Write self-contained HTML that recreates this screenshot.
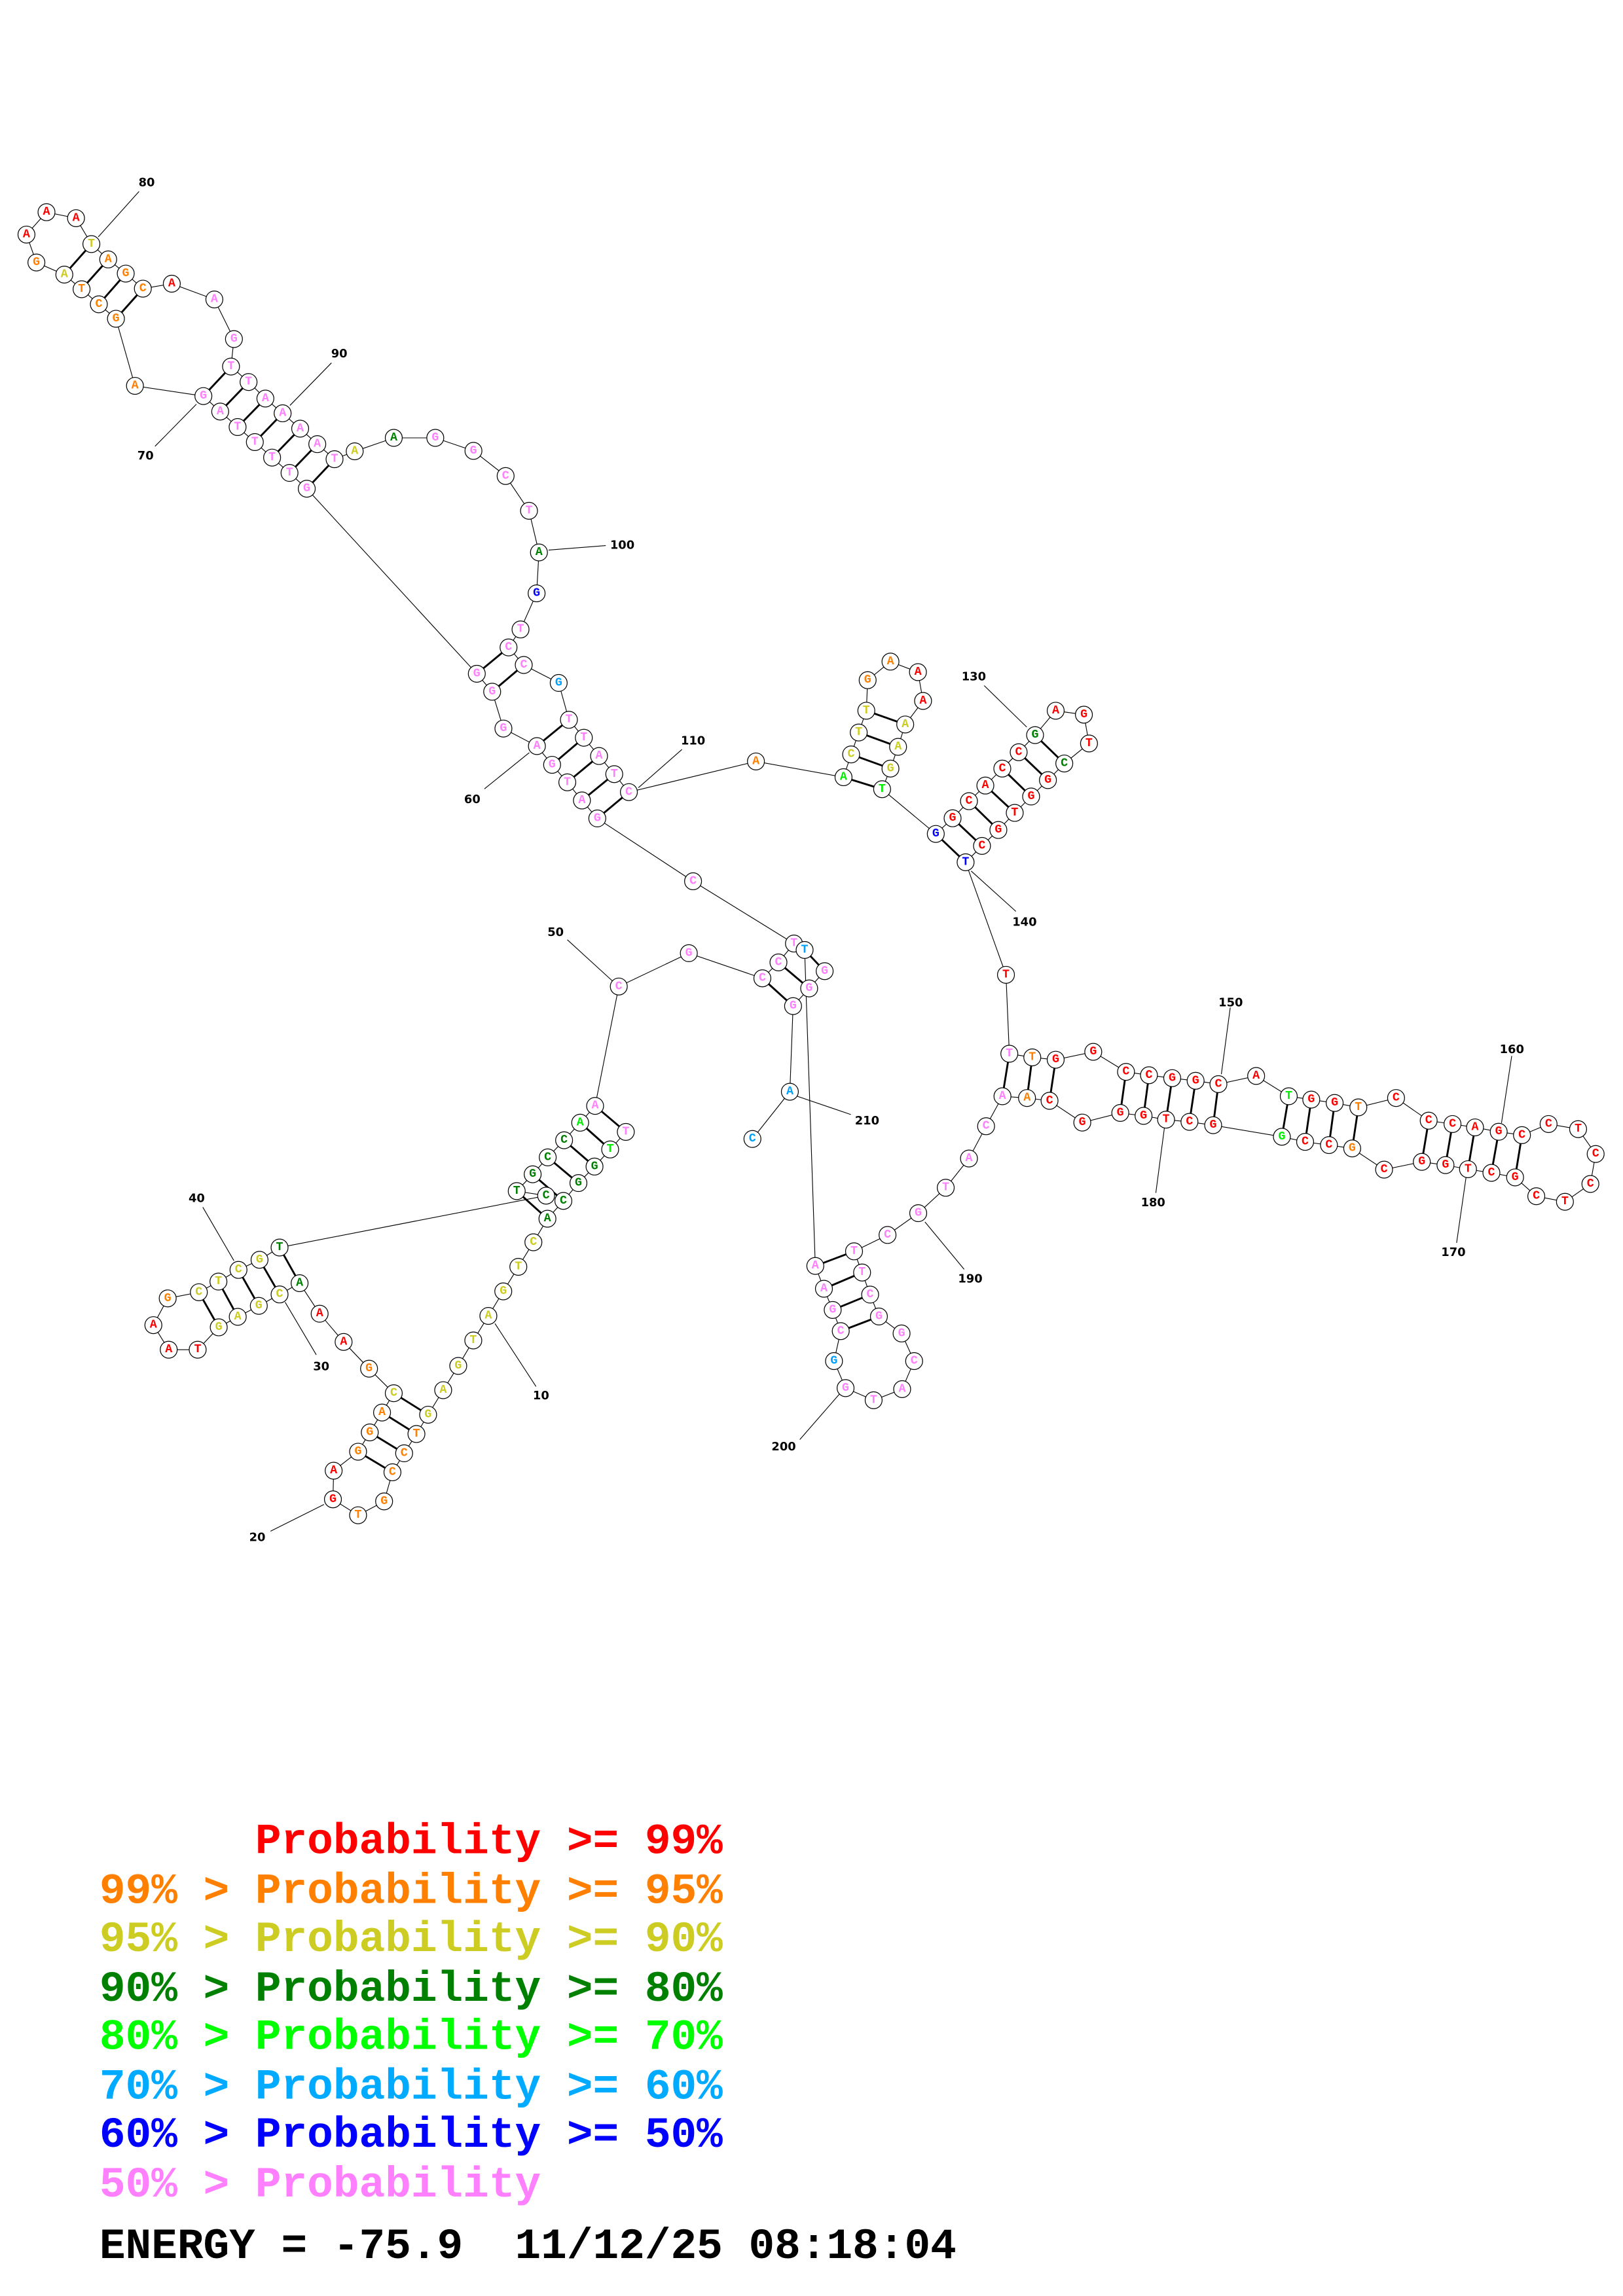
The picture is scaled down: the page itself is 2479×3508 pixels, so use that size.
<!DOCTYPE html>
<html><head><meta charset="utf-8"><style>
html,body{margin:0;padding:0;background:#fff}
svg{display:block}
.bb{fill:none;stroke:#000;stroke-width:0.5}
.pr line{stroke:#000;stroke-width:1.3}
.ll line{stroke:#000;stroke-width:0.5}
.nd circle{fill:#fff;stroke:#000;stroke-width:0.55}
.nd text{font-family:"Liberation Mono",monospace;font-weight:bold;font-size:8.2px;text-anchor:middle;dominant-baseline:central}
.lb text{font-family:"DejaVu Sans","Liberation Sans",sans-serif;font-weight:bold;font-size:8px;text-anchor:middle;dominant-baseline:central;fill:#000}
.r{fill:#ff0000}.o{fill:#ff8000}.y{fill:#cccc22}.g{fill:#008000}.l{fill:#00ee00}.c{fill:#00a0ff}.b{fill:#0000ff}.p{fill:#ff80ff}
.lg{font-family:"Liberation Mono",monospace;font-weight:bold;font-size:29.6px;white-space:pre}
</style></head><body>
<svg width="2479" height="3508" viewBox="0 0 1110 1571" preserveAspectRatio="none" xmlns="http://www.w3.org/2000/svg">
<polyline class="bb" points="428,774.5 417.3,786.5 406.6,798.2 395.6,809.5 385.3,821.7 374.4,833.9 364.8,850 354.5,866.8 344.2,883.6 334,900.4 323.7,917.2 313.4,934.6 303.1,951.2 292.8,968 284.8,981.2 276.4,994.4 268.4,1007.4 262.7,1027.3 244.9,1036.8 227.7,1025.9 228.2,1006.3 244.9,993.3 252.9,980.1 261.3,966.5 269.3,953.3 252.4,936.5 235,918.2 218.6,898.9 204.9,878 191.2,885.7 177,893.5 162.6,901 149.6,908.2 135.2,923.5 115.4,923.5 104.9,906.7 114.7,888.4 136,884.2 149.4,876.9 163.1,868.9 177.5,862 191.2,853.6 373.5,818.1 353.4,815 364.3,803.5 374.6,791.9 385.8,780.2 396.8,768.2 407,756.7 423.2,675 471.1,652.2 521.4,669.4 532.4,658.5 543,645.6 474,603 408.5,560 398,547.7 388,535.3 377.6,523.3 367.2,510.5 344.3,498.5 336.6,473.3 326.1,461 209.8,334.4 198,323.6 186.1,313.1 174.3,302.5 162.5,292.2 150.6,281.6 139.1,271 92.3,264 79.3,218.1 67.6,208.2 55.8,197.9 44,187.9 24.9,179.6 18.1,160.5 31.8,145.2 52,149.3 62.5,167 74,177.5 86,187.2 97.7,197.5 117.5,194.1 146.6,204.9 160,232 158,250.8 170,261.4 181.5,272.7 193.3,282.8 205.3,293.3 217,303.9 228.8,314.2 242.6,308.8 269.3,299.6 297.7,299.6 323.8,308.5 345.8,325.7 361.8,349.5 368.6,378 367,406 356,430.7 347.8,443 358.2,455 382.1,467.3 389.1,492.5 399.3,504.8 409.7,517.3 420.1,529.7 430.1,542 517,521 576.9,531.8 582.1,516.2 587.3,501.2 592.5,486.3 593.4,465.4 609,452.7 627.8,459.9 631.3,479.6 619.1,495.7 614.2,511 609,525.9 603.3,540 640,570.6 651.5,559.9 662.7,548.2 673.9,537.5 685.5,525.9 696.7,514.7 707.9,503 722,486.3 741.3,489 744.8,508.7 727.9,522.4 716.7,533.8 705.2,545 694,556.2 682.8,567.9 671.6,578.8 660.4,590 688,667 690.3,721 706,723.5 722,725.1 747.7,719.7 770.1,733.4 785.8,735.7 801.7,737.7 817.7,739.5 833.3,741.8 859.1,736.2 881.4,750.1 896.8,752.4 912.8,754.7 929,757.7 954.8,751.3 977.1,766.8 993.4,769.1 1008.8,771.4 1025,774.4 1040.9,776.7 1059.1,769.1 1079.3,772.6 1091.3,789.6 1087.7,810.1 1070.3,822.3 1050.7,818.5 1036.2,805.6 1020,802.5 1004,800 988.6,797.2 972.4,795 946.6,800.3 924.8,785.8 908.9,783.5 892.6,781.3 876.7,777.8 829.7,769.9 813.5,767.6 797.5,766.1 782.1,763.5 766.2,761.5 740.2,768.1 717.8,753.2 702.4,751.3 685.6,750.1 674.4,770.6 662.7,792.7 646.8,812.7 628,830.1 607,845 584.1,856.2 589.6,870.7 595.1,885.8 601.1,900.8 616.6,912.4 625.2,931.3 617,950.5 597.5,958.1 578.3,949.8 570.4,931.3 575,910.8 569.5,896.3 563.5,881.8 557.6,866.2 550.3,650 564,664.5 553.4,676.3 542.4,688.4 540.2,747 514.6,779.3"/>
<g class="pr">
<line x1="292.8" y1="968" x2="269.3" y2="953.3"/><line x1="284.8" y1="981.2" x2="261.3" y2="966.5"/><line x1="276.4" y1="994.4" x2="252.9" y2="980.1"/><line x1="268.4" y1="1007.4" x2="244.9" y2="993.3"/>
<line x1="204.9" y1="878" x2="191.2" y2="853.6"/><line x1="191.2" y1="885.7" x2="177.5" y2="862"/><line x1="177" y1="893.5" x2="163.1" y2="868.9"/><line x1="162.6" y1="901" x2="149.4" y2="876.9"/><line x1="149.6" y1="908.2" x2="136" y2="884.2"/>
<line x1="353.4" y1="815" x2="374.4" y2="833.9"/><line x1="364.3" y1="803.5" x2="385.3" y2="821.7"/><line x1="374.6" y1="791.9" x2="395.6" y2="809.5"/><line x1="385.8" y1="780.2" x2="406.6" y2="798.2"/><line x1="396.8" y1="768.2" x2="417.3" y2="786.5"/><line x1="407" y1="756.7" x2="428" y2="774.5"/>
<line x1="521.4" y1="669.4" x2="542.4" y2="688.4"/><line x1="532.4" y1="658.5" x2="553.4" y2="676.3"/><line x1="550.3" y1="650" x2="564" y2="664.5"/>
<line x1="408.5" y1="560" x2="430.1" y2="542"/><line x1="398" y1="547.7" x2="420.1" y2="529.7"/><line x1="388" y1="535.3" x2="409.7" y2="517.3"/><line x1="377.6" y1="523.3" x2="399.3" y2="504.8"/><line x1="367.2" y1="510.5" x2="389.1" y2="492.5"/>
<line x1="336.6" y1="473.3" x2="358.2" y2="455"/><line x1="326.1" y1="461" x2="347.8" y2="443"/>
<line x1="209.8" y1="334.4" x2="228.8" y2="314.2"/><line x1="198" y1="323.6" x2="217" y2="303.9"/><line x1="186.1" y1="313.1" x2="205.3" y2="293.3"/><line x1="174.3" y1="302.5" x2="193.3" y2="282.8"/><line x1="162.5" y1="292.2" x2="181.5" y2="272.7"/><line x1="150.6" y1="281.6" x2="170" y2="261.4"/><line x1="139.1" y1="271" x2="158" y2="250.8"/>
<line x1="79.3" y1="218.1" x2="97.7" y2="197.5"/><line x1="67.6" y1="208.2" x2="86" y2="187.2"/><line x1="55.8" y1="197.9" x2="74" y2="177.5"/><line x1="44" y1="187.9" x2="62.5" y2="167"/>
<line x1="576.9" y1="531.8" x2="603.3" y2="540"/><line x1="582.1" y1="516.2" x2="609" y2="525.9"/><line x1="587.3" y1="501.2" x2="614.2" y2="511"/><line x1="592.5" y1="486.3" x2="619.1" y2="495.7"/>
<line x1="640" y1="570.6" x2="660.4" y2="590"/><line x1="651.5" y1="559.9" x2="671.6" y2="578.8"/><line x1="662.7" y1="548.2" x2="682.8" y2="567.9"/><line x1="673.9" y1="537.5" x2="694" y2="556.2"/><line x1="685.5" y1="525.9" x2="705.2" y2="545"/><line x1="696.7" y1="514.7" x2="716.7" y2="533.8"/><line x1="707.9" y1="503" x2="727.9" y2="522.4"/>
<line x1="690.3" y1="721" x2="685.6" y2="750.1"/><line x1="706" y1="723.5" x2="702.4" y2="751.3"/><line x1="722" y1="725.1" x2="717.8" y2="753.2"/><line x1="770.1" y1="733.4" x2="766.2" y2="761.5"/><line x1="785.8" y1="735.7" x2="782.1" y2="763.5"/><line x1="801.7" y1="737.7" x2="797.5" y2="766.1"/><line x1="817.7" y1="739.5" x2="813.5" y2="767.6"/><line x1="833.3" y1="741.8" x2="829.7" y2="769.9"/>
<line x1="881.4" y1="750.1" x2="876.7" y2="777.8"/><line x1="896.8" y1="752.4" x2="892.6" y2="781.3"/><line x1="912.8" y1="754.7" x2="908.9" y2="783.5"/><line x1="929" y1="757.7" x2="924.8" y2="785.8"/>
<line x1="977.1" y1="766.8" x2="972.4" y2="795"/><line x1="993.4" y1="769.1" x2="988.6" y2="797.2"/><line x1="1008.8" y1="771.4" x2="1004" y2="800"/><line x1="1025" y1="774.4" x2="1020" y2="802.5"/><line x1="1040.9" y1="776.7" x2="1036.2" y2="805.6"/>
<line x1="584.1" y1="856.2" x2="557.6" y2="866.2"/><line x1="589.6" y1="870.7" x2="563.5" y2="881.8"/><line x1="595.1" y1="885.8" x2="569.5" y2="896.3"/><line x1="601.1" y1="900.8" x2="575" y2="910.8"/>
</g>
<g class="ll">
<line x1="366.6" y1="948.7" x2="338.5" y2="905.6"/><line x1="185" y1="1047.7" x2="221.6" y2="1029.4"/><line x1="216.3" y1="927" x2="195" y2="891"/><line x1="138.7" y1="826" x2="160" y2="862.6"/><line x1="388" y1="643" x2="423" y2="675"/><line x1="331.3" y1="539.8" x2="362" y2="515"/><line x1="106" y1="305.4" x2="134.3" y2="276.6"/><line x1="95.1" y1="131" x2="67.2" y2="162.1"/><line x1="226.7" y1="248.3" x2="198.3" y2="277.4"/><line x1="414.3" y1="373.3" x2="375.2" y2="376.4"/><line x1="466.4" y1="512.8" x2="436.6" y2="539"/><line x1="673.1" y1="469.1" x2="702.2" y2="497.5"/><line x1="694.8" y1="623.6" x2="664.2" y2="596"/><line x1="841.4" y1="689.4" x2="835.3" y2="735"/><line x1="1033.9" y1="722.5" x2="1026.9" y2="768.4"/><line x1="996.2" y1="850.4" x2="1003.2" y2="801.8"/><line x1="790.5" y1="816.2" x2="796.7" y2="769.1"/><line x1="659.4" y1="868.5" x2="632.6" y2="836.1"/><line x1="547" y1="985" x2="574" y2="954"/><line x1="581.9" y1="762.6" x2="545" y2="750"/>
</g>
<g class="lb">
<text x="370" y="955">10</text><text x="176" y="1052">20</text><text x="219.7" y="935">30</text><text x="134.5" y="820">40</text><text x="380" y="638">50</text><text x="323" y="547">60</text><text x="99.5" y="312">70</text><text x="100.3" y="125">80</text><text x="232" y="242">90</text><text x="425.6" y="373">100</text><text x="474" y="507">110</text><text x="666" y="463">130</text><text x="700.7" y="631">140</text><text x="841.7" y="686">150</text><text x="1034" y="718">160</text><text x="994" y="857">170</text><text x="788.6" y="823">180</text><text x="663.6" y="875">190</text><text x="536" y="990">200</text><text x="593" y="767">210</text>
</g>
<g class="nd">
<circle cx="428" cy="774.5" r="5.8"/><text x="428" y="774.5" class="p">T</text>
<circle cx="417.3" cy="786.5" r="5.8"/><text x="417.3" y="786.5" class="l">T</text>
<circle cx="406.6" cy="798.2" r="5.8"/><text x="406.6" y="798.2" class="g">G</text>
<circle cx="395.6" cy="809.5" r="5.8"/><text x="395.6" y="809.5" class="g">G</text>
<circle cx="385.3" cy="821.7" r="5.8"/><text x="385.3" y="821.7" class="g">C</text>
<circle cx="374.4" cy="833.9" r="5.8"/><text x="374.4" y="833.9" class="g">A</text>
<circle cx="364.8" cy="850" r="5.8"/><text x="364.8" y="850" class="y">C</text>
<circle cx="354.5" cy="866.8" r="5.8"/><text x="354.5" y="866.8" class="y">T</text>
<circle cx="344.2" cy="883.6" r="5.8"/><text x="344.2" y="883.6" class="y">G</text>
<circle cx="334" cy="900.4" r="5.8"/><text x="334" y="900.4" class="y">A</text>
<circle cx="323.7" cy="917.2" r="5.8"/><text x="323.7" y="917.2" class="y">T</text>
<circle cx="313.4" cy="934.6" r="5.8"/><text x="313.4" y="934.6" class="y">G</text>
<circle cx="303.1" cy="951.2" r="5.8"/><text x="303.1" y="951.2" class="y">A</text>
<circle cx="292.8" cy="968" r="5.8"/><text x="292.8" y="968" class="y">G</text>
<circle cx="284.8" cy="981.2" r="5.8"/><text x="284.8" y="981.2" class="o">T</text>
<circle cx="276.4" cy="994.4" r="5.8"/><text x="276.4" y="994.4" class="o">C</text>
<circle cx="268.4" cy="1007.4" r="5.8"/><text x="268.4" y="1007.4" class="o">C</text>
<circle cx="262.7" cy="1027.3" r="5.8"/><text x="262.7" y="1027.3" class="o">G</text>
<circle cx="244.9" cy="1036.8" r="5.8"/><text x="244.9" y="1036.8" class="o">T</text>
<circle cx="227.7" cy="1025.9" r="5.8"/><text x="227.7" y="1025.9" class="r">G</text>
<circle cx="228.2" cy="1006.3" r="5.8"/><text x="228.2" y="1006.3" class="r">A</text>
<circle cx="244.9" cy="993.3" r="5.8"/><text x="244.9" y="993.3" class="o">G</text>
<circle cx="252.9" cy="980.1" r="5.8"/><text x="252.9" y="980.1" class="o">G</text>
<circle cx="261.3" cy="966.5" r="5.8"/><text x="261.3" y="966.5" class="o">A</text>
<circle cx="269.3" cy="953.3" r="5.8"/><text x="269.3" y="953.3" class="y">C</text>
<circle cx="252.4" cy="936.5" r="5.8"/><text x="252.4" y="936.5" class="o">G</text>
<circle cx="235" cy="918.2" r="5.8"/><text x="235" y="918.2" class="r">A</text>
<circle cx="218.6" cy="898.9" r="5.8"/><text x="218.6" y="898.9" class="r">A</text>
<circle cx="204.9" cy="878" r="5.8"/><text x="204.9" y="878" class="g">A</text>
<circle cx="191.2" cy="885.7" r="5.8"/><text x="191.2" y="885.7" class="y">C</text>
<circle cx="177" cy="893.5" r="5.8"/><text x="177" y="893.5" class="y">G</text>
<circle cx="162.6" cy="901" r="5.8"/><text x="162.6" y="901" class="y">A</text>
<circle cx="149.6" cy="908.2" r="5.8"/><text x="149.6" y="908.2" class="y">G</text>
<circle cx="135.2" cy="923.5" r="5.8"/><text x="135.2" y="923.5" class="r">T</text>
<circle cx="115.4" cy="923.5" r="5.8"/><text x="115.4" y="923.5" class="r">A</text>
<circle cx="104.9" cy="906.7" r="5.8"/><text x="104.9" y="906.7" class="r">A</text>
<circle cx="114.7" cy="888.4" r="5.8"/><text x="114.7" y="888.4" class="o">G</text>
<circle cx="136" cy="884.2" r="5.8"/><text x="136" y="884.2" class="y">C</text>
<circle cx="149.4" cy="876.9" r="5.8"/><text x="149.4" y="876.9" class="y">T</text>
<circle cx="163.1" cy="868.9" r="5.8"/><text x="163.1" y="868.9" class="y">C</text>
<circle cx="177.5" cy="862" r="5.8"/><text x="177.5" y="862" class="y">G</text>
<circle cx="191.2" cy="853.6" r="5.8"/><text x="191.2" y="853.6" class="g">T</text>
<circle cx="373.5" cy="818.1" r="5.8"/><text x="373.5" y="818.1" class="g">C</text>
<circle cx="353.4" cy="815" r="5.8"/><text x="353.4" y="815" class="g">T</text>
<circle cx="364.3" cy="803.5" r="5.8"/><text x="364.3" y="803.5" class="g">G</text>
<circle cx="374.6" cy="791.9" r="5.8"/><text x="374.6" y="791.9" class="g">C</text>
<circle cx="385.8" cy="780.2" r="5.8"/><text x="385.8" y="780.2" class="g">C</text>
<circle cx="396.8" cy="768.2" r="5.8"/><text x="396.8" y="768.2" class="l">A</text>
<circle cx="407" cy="756.7" r="5.8"/><text x="407" y="756.7" class="p">A</text>
<circle cx="423.2" cy="675" r="5.8"/><text x="423.2" y="675" class="p">C</text>
<circle cx="471.1" cy="652.2" r="5.8"/><text x="471.1" y="652.2" class="p">G</text>
<circle cx="521.4" cy="669.4" r="5.8"/><text x="521.4" y="669.4" class="p">C</text>
<circle cx="532.4" cy="658.5" r="5.8"/><text x="532.4" y="658.5" class="p">C</text>
<circle cx="543" cy="645.6" r="5.8"/><text x="543" y="645.6" class="p">T</text>
<circle cx="474" cy="603" r="5.8"/><text x="474" y="603" class="p">C</text>
<circle cx="408.5" cy="560" r="5.8"/><text x="408.5" y="560" class="p">G</text>
<circle cx="398" cy="547.7" r="5.8"/><text x="398" y="547.7" class="p">A</text>
<circle cx="388" cy="535.3" r="5.8"/><text x="388" y="535.3" class="p">T</text>
<circle cx="377.6" cy="523.3" r="5.8"/><text x="377.6" y="523.3" class="p">G</text>
<circle cx="367.2" cy="510.5" r="5.8"/><text x="367.2" y="510.5" class="p">A</text>
<circle cx="344.3" cy="498.5" r="5.8"/><text x="344.3" y="498.5" class="p">G</text>
<circle cx="336.6" cy="473.3" r="5.8"/><text x="336.6" y="473.3" class="p">G</text>
<circle cx="326.1" cy="461" r="5.8"/><text x="326.1" y="461" class="p">G</text>
<circle cx="209.8" cy="334.4" r="5.8"/><text x="209.8" y="334.4" class="p">G</text>
<circle cx="198" cy="323.6" r="5.8"/><text x="198" y="323.6" class="p">T</text>
<circle cx="186.1" cy="313.1" r="5.8"/><text x="186.1" y="313.1" class="p">T</text>
<circle cx="174.3" cy="302.5" r="5.8"/><text x="174.3" y="302.5" class="p">T</text>
<circle cx="162.5" cy="292.2" r="5.8"/><text x="162.5" y="292.2" class="p">T</text>
<circle cx="150.6" cy="281.6" r="5.8"/><text x="150.6" y="281.6" class="p">A</text>
<circle cx="139.1" cy="271" r="5.8"/><text x="139.1" y="271" class="p">G</text>
<circle cx="92.3" cy="264" r="5.8"/><text x="92.3" y="264" class="o">A</text>
<circle cx="79.3" cy="218.1" r="5.8"/><text x="79.3" y="218.1" class="o">G</text>
<circle cx="67.6" cy="208.2" r="5.8"/><text x="67.6" y="208.2" class="o">C</text>
<circle cx="55.8" cy="197.9" r="5.8"/><text x="55.8" y="197.9" class="o">T</text>
<circle cx="44" cy="187.9" r="5.8"/><text x="44" y="187.9" class="y">A</text>
<circle cx="24.9" cy="179.6" r="5.8"/><text x="24.9" y="179.6" class="o">G</text>
<circle cx="18.1" cy="160.5" r="5.8"/><text x="18.1" y="160.5" class="r">A</text>
<circle cx="31.8" cy="145.2" r="5.8"/><text x="31.8" y="145.2" class="r">A</text>
<circle cx="52" cy="149.3" r="5.8"/><text x="52" y="149.3" class="r">A</text>
<circle cx="62.5" cy="167" r="5.8"/><text x="62.5" y="167" class="y">T</text>
<circle cx="74" cy="177.5" r="5.8"/><text x="74" y="177.5" class="o">A</text>
<circle cx="86" cy="187.2" r="5.8"/><text x="86" y="187.2" class="o">G</text>
<circle cx="97.7" cy="197.5" r="5.8"/><text x="97.7" y="197.5" class="o">C</text>
<circle cx="117.5" cy="194.1" r="5.8"/><text x="117.5" y="194.1" class="r">A</text>
<circle cx="146.6" cy="204.9" r="5.8"/><text x="146.6" y="204.9" class="p">A</text>
<circle cx="160" cy="232" r="5.8"/><text x="160" y="232" class="p">G</text>
<circle cx="158" cy="250.8" r="5.8"/><text x="158" y="250.8" class="p">T</text>
<circle cx="170" cy="261.4" r="5.8"/><text x="170" y="261.4" class="p">T</text>
<circle cx="181.5" cy="272.7" r="5.8"/><text x="181.5" y="272.7" class="p">A</text>
<circle cx="193.3" cy="282.8" r="5.8"/><text x="193.3" y="282.8" class="p">A</text>
<circle cx="205.3" cy="293.3" r="5.8"/><text x="205.3" y="293.3" class="p">A</text>
<circle cx="217" cy="303.9" r="5.8"/><text x="217" y="303.9" class="p">A</text>
<circle cx="228.8" cy="314.2" r="5.8"/><text x="228.8" y="314.2" class="p">T</text>
<circle cx="242.6" cy="308.8" r="5.8"/><text x="242.6" y="308.8" class="y">A</text>
<circle cx="269.3" cy="299.6" r="5.8"/><text x="269.3" y="299.6" class="g">A</text>
<circle cx="297.7" cy="299.6" r="5.8"/><text x="297.7" y="299.6" class="p">G</text>
<circle cx="323.8" cy="308.5" r="5.8"/><text x="323.8" y="308.5" class="p">G</text>
<circle cx="345.8" cy="325.7" r="5.8"/><text x="345.8" y="325.7" class="p">C</text>
<circle cx="361.8" cy="349.5" r="5.8"/><text x="361.8" y="349.5" class="p">T</text>
<circle cx="368.6" cy="378" r="5.8"/><text x="368.6" y="378" class="g">A</text>
<circle cx="367" cy="406" r="5.8"/><text x="367" y="406" class="b">G</text>
<circle cx="356" cy="430.7" r="5.8"/><text x="356" y="430.7" class="p">T</text>
<circle cx="347.8" cy="443" r="5.8"/><text x="347.8" y="443" class="p">C</text>
<circle cx="358.2" cy="455" r="5.8"/><text x="358.2" y="455" class="p">C</text>
<circle cx="382.1" cy="467.3" r="5.8"/><text x="382.1" y="467.3" class="c">G</text>
<circle cx="389.1" cy="492.5" r="5.8"/><text x="389.1" y="492.5" class="p">T</text>
<circle cx="399.3" cy="504.8" r="5.8"/><text x="399.3" y="504.8" class="p">T</text>
<circle cx="409.7" cy="517.3" r="5.8"/><text x="409.7" y="517.3" class="p">A</text>
<circle cx="420.1" cy="529.7" r="5.8"/><text x="420.1" y="529.7" class="p">T</text>
<circle cx="430.1" cy="542" r="5.8"/><text x="430.1" y="542" class="p">C</text>
<circle cx="517" cy="521" r="5.8"/><text x="517" y="521" class="o">A</text>
<circle cx="576.9" cy="531.8" r="5.8"/><text x="576.9" y="531.8" class="l">A</text>
<circle cx="582.1" cy="516.2" r="5.8"/><text x="582.1" y="516.2" class="y">C</text>
<circle cx="587.3" cy="501.2" r="5.8"/><text x="587.3" y="501.2" class="y">T</text>
<circle cx="592.5" cy="486.3" r="5.8"/><text x="592.5" y="486.3" class="y">T</text>
<circle cx="593.4" cy="465.4" r="5.8"/><text x="593.4" y="465.4" class="o">G</text>
<circle cx="609" cy="452.7" r="5.8"/><text x="609" y="452.7" class="o">A</text>
<circle cx="627.8" cy="459.9" r="5.8"/><text x="627.8" y="459.9" class="r">A</text>
<circle cx="631.3" cy="479.6" r="5.8"/><text x="631.3" y="479.6" class="r">A</text>
<circle cx="619.1" cy="495.7" r="5.8"/><text x="619.1" y="495.7" class="y">A</text>
<circle cx="614.2" cy="511" r="5.8"/><text x="614.2" y="511" class="y">A</text>
<circle cx="609" cy="525.9" r="5.8"/><text x="609" y="525.9" class="y">G</text>
<circle cx="603.3" cy="540" r="5.8"/><text x="603.3" y="540" class="l">T</text>
<circle cx="640" cy="570.6" r="5.8"/><text x="640" y="570.6" class="b">G</text>
<circle cx="651.5" cy="559.9" r="5.8"/><text x="651.5" y="559.9" class="r">G</text>
<circle cx="662.7" cy="548.2" r="5.8"/><text x="662.7" y="548.2" class="r">C</text>
<circle cx="673.9" cy="537.5" r="5.8"/><text x="673.9" y="537.5" class="r">A</text>
<circle cx="685.5" cy="525.9" r="5.8"/><text x="685.5" y="525.9" class="r">C</text>
<circle cx="696.7" cy="514.7" r="5.8"/><text x="696.7" y="514.7" class="r">C</text>
<circle cx="707.9" cy="503" r="5.8"/><text x="707.9" y="503" class="g">G</text>
<circle cx="722" cy="486.3" r="5.8"/><text x="722" y="486.3" class="r">A</text>
<circle cx="741.3" cy="489" r="5.8"/><text x="741.3" y="489" class="r">G</text>
<circle cx="744.8" cy="508.7" r="5.8"/><text x="744.8" y="508.7" class="r">T</text>
<circle cx="727.9" cy="522.4" r="5.8"/><text x="727.9" y="522.4" class="g">C</text>
<circle cx="716.7" cy="533.8" r="5.8"/><text x="716.7" y="533.8" class="r">G</text>
<circle cx="705.2" cy="545" r="5.8"/><text x="705.2" y="545" class="r">G</text>
<circle cx="694" cy="556.2" r="5.8"/><text x="694" y="556.2" class="r">T</text>
<circle cx="682.8" cy="567.9" r="5.8"/><text x="682.8" y="567.9" class="r">G</text>
<circle cx="671.6" cy="578.8" r="5.8"/><text x="671.6" y="578.8" class="r">C</text>
<circle cx="660.4" cy="590" r="5.8"/><text x="660.4" y="590" class="b">T</text>
<circle cx="688" cy="667" r="5.8"/><text x="688" y="667" class="r">T</text>
<circle cx="690.3" cy="721" r="5.8"/><text x="690.3" y="721" class="p">T</text>
<circle cx="706" cy="723.5" r="5.8"/><text x="706" y="723.5" class="o">T</text>
<circle cx="722" cy="725.1" r="5.8"/><text x="722" y="725.1" class="r">G</text>
<circle cx="747.7" cy="719.7" r="5.8"/><text x="747.7" y="719.7" class="r">G</text>
<circle cx="770.1" cy="733.4" r="5.8"/><text x="770.1" y="733.4" class="r">C</text>
<circle cx="785.8" cy="735.7" r="5.8"/><text x="785.8" y="735.7" class="r">C</text>
<circle cx="801.7" cy="737.7" r="5.8"/><text x="801.7" y="737.7" class="r">G</text>
<circle cx="817.7" cy="739.5" r="5.8"/><text x="817.7" y="739.5" class="r">G</text>
<circle cx="833.3" cy="741.8" r="5.8"/><text x="833.3" y="741.8" class="r">C</text>
<circle cx="859.1" cy="736.2" r="5.8"/><text x="859.1" y="736.2" class="r">A</text>
<circle cx="881.4" cy="750.1" r="5.8"/><text x="881.4" y="750.1" class="l">T</text>
<circle cx="896.8" cy="752.4" r="5.8"/><text x="896.8" y="752.4" class="r">G</text>
<circle cx="912.8" cy="754.7" r="5.8"/><text x="912.8" y="754.7" class="r">G</text>
<circle cx="929" cy="757.7" r="5.8"/><text x="929" y="757.7" class="o">T</text>
<circle cx="954.8" cy="751.3" r="5.8"/><text x="954.8" y="751.3" class="r">C</text>
<circle cx="977.1" cy="766.8" r="5.8"/><text x="977.1" y="766.8" class="r">C</text>
<circle cx="993.4" cy="769.1" r="5.8"/><text x="993.4" y="769.1" class="r">C</text>
<circle cx="1008.8" cy="771.4" r="5.8"/><text x="1008.8" y="771.4" class="r">A</text>
<circle cx="1025" cy="774.4" r="5.8"/><text x="1025" y="774.4" class="r">G</text>
<circle cx="1040.9" cy="776.7" r="5.8"/><text x="1040.9" y="776.7" class="r">C</text>
<circle cx="1059.1" cy="769.1" r="5.8"/><text x="1059.1" y="769.1" class="r">C</text>
<circle cx="1079.3" cy="772.6" r="5.8"/><text x="1079.3" y="772.6" class="r">T</text>
<circle cx="1091.3" cy="789.6" r="5.8"/><text x="1091.3" y="789.6" class="r">C</text>
<circle cx="1087.7" cy="810.1" r="5.8"/><text x="1087.7" y="810.1" class="r">C</text>
<circle cx="1070.3" cy="822.3" r="5.8"/><text x="1070.3" y="822.3" class="r">T</text>
<circle cx="1050.7" cy="818.5" r="5.8"/><text x="1050.7" y="818.5" class="r">C</text>
<circle cx="1036.2" cy="805.6" r="5.8"/><text x="1036.2" y="805.6" class="r">G</text>
<circle cx="1020" cy="802.5" r="5.8"/><text x="1020" y="802.5" class="r">C</text>
<circle cx="1004" cy="800" r="5.8"/><text x="1004" y="800" class="r">T</text>
<circle cx="988.6" cy="797.2" r="5.8"/><text x="988.6" y="797.2" class="r">G</text>
<circle cx="972.4" cy="795" r="5.8"/><text x="972.4" y="795" class="r">G</text>
<circle cx="946.6" cy="800.3" r="5.8"/><text x="946.6" y="800.3" class="r">C</text>
<circle cx="924.8" cy="785.8" r="5.8"/><text x="924.8" y="785.8" class="o">G</text>
<circle cx="908.9" cy="783.5" r="5.8"/><text x="908.9" y="783.5" class="r">C</text>
<circle cx="892.6" cy="781.3" r="5.8"/><text x="892.6" y="781.3" class="r">C</text>
<circle cx="876.7" cy="777.8" r="5.8"/><text x="876.7" y="777.8" class="l">G</text>
<circle cx="829.7" cy="769.9" r="5.8"/><text x="829.7" y="769.9" class="r">G</text>
<circle cx="813.5" cy="767.6" r="5.8"/><text x="813.5" y="767.6" class="r">C</text>
<circle cx="797.5" cy="766.1" r="5.8"/><text x="797.5" y="766.1" class="r">T</text>
<circle cx="782.1" cy="763.5" r="5.8"/><text x="782.1" y="763.5" class="r">G</text>
<circle cx="766.2" cy="761.5" r="5.8"/><text x="766.2" y="761.5" class="r">G</text>
<circle cx="740.2" cy="768.1" r="5.8"/><text x="740.2" y="768.1" class="r">G</text>
<circle cx="717.8" cy="753.2" r="5.8"/><text x="717.8" y="753.2" class="r">C</text>
<circle cx="702.4" cy="751.3" r="5.8"/><text x="702.4" y="751.3" class="o">A</text>
<circle cx="685.6" cy="750.1" r="5.8"/><text x="685.6" y="750.1" class="p">A</text>
<circle cx="674.4" cy="770.6" r="5.8"/><text x="674.4" y="770.6" class="p">C</text>
<circle cx="662.7" cy="792.7" r="5.8"/><text x="662.7" y="792.7" class="p">A</text>
<circle cx="646.8" cy="812.7" r="5.8"/><text x="646.8" y="812.7" class="p">T</text>
<circle cx="628" cy="830.1" r="5.8"/><text x="628" y="830.1" class="p">G</text>
<circle cx="607" cy="845" r="5.8"/><text x="607" y="845" class="p">C</text>
<circle cx="584.1" cy="856.2" r="5.8"/><text x="584.1" y="856.2" class="p">T</text>
<circle cx="589.6" cy="870.7" r="5.8"/><text x="589.6" y="870.7" class="p">T</text>
<circle cx="595.1" cy="885.8" r="5.8"/><text x="595.1" y="885.8" class="p">C</text>
<circle cx="601.1" cy="900.8" r="5.8"/><text x="601.1" y="900.8" class="p">G</text>
<circle cx="616.6" cy="912.4" r="5.8"/><text x="616.6" y="912.4" class="p">G</text>
<circle cx="625.2" cy="931.3" r="5.8"/><text x="625.2" y="931.3" class="p">C</text>
<circle cx="617" cy="950.5" r="5.8"/><text x="617" y="950.5" class="p">A</text>
<circle cx="597.5" cy="958.1" r="5.8"/><text x="597.5" y="958.1" class="p">T</text>
<circle cx="578.3" cy="949.8" r="5.8"/><text x="578.3" y="949.8" class="p">G</text>
<circle cx="570.4" cy="931.3" r="5.8"/><text x="570.4" y="931.3" class="c">G</text>
<circle cx="575" cy="910.8" r="5.8"/><text x="575" y="910.8" class="p">C</text>
<circle cx="569.5" cy="896.3" r="5.8"/><text x="569.5" y="896.3" class="p">G</text>
<circle cx="563.5" cy="881.8" r="5.8"/><text x="563.5" y="881.8" class="p">A</text>
<circle cx="557.6" cy="866.2" r="5.8"/><text x="557.6" y="866.2" class="p">A</text>
<circle cx="550.3" cy="650" r="5.8"/><text x="550.3" y="650" class="c">T</text>
<circle cx="564" cy="664.5" r="5.8"/><text x="564" y="664.5" class="p">G</text>
<circle cx="553.4" cy="676.3" r="5.8"/><text x="553.4" y="676.3" class="p">G</text>
<circle cx="542.4" cy="688.4" r="5.8"/><text x="542.4" y="688.4" class="p">G</text>
<circle cx="540.2" cy="747" r="5.8"/><text x="540.2" y="747" class="c">A</text>
<circle cx="514.6" cy="779.3" r="5.8"/><text x="514.6" y="779.3" class="c">C</text>
</g>
<g class="lg">
<text x="68" y="1268" xml:space="preserve" fill="#ff0000">      Probability &gt;= 99%</text>
<text x="68" y="1302" xml:space="preserve" fill="#ff8000">99% &gt; Probability &gt;= 95%</text>
<text x="68" y="1335" xml:space="preserve" fill="#cccc22">95% &gt; Probability &gt;= 90%</text>
<text x="68" y="1369" xml:space="preserve" fill="#008000">90% &gt; Probability &gt;= 80%</text>
<text x="68" y="1402" xml:space="preserve" fill="#00ff00">80% &gt; Probability &gt;= 70%</text>
<text x="68" y="1436" xml:space="preserve" fill="#00aaff">70% &gt; Probability &gt;= 60%</text>
<text x="68" y="1469" xml:space="preserve" fill="#0000ff">60% &gt; Probability &gt;= 50%</text>
<text x="68" y="1503" xml:space="preserve" fill="#ff80ff">50% &gt; Probability</text>
<text x="68" y="1545" xml:space="preserve" fill="#000">ENERGY = -75.9  11/12/25 08:18:04</text>
</g>
</svg>
</body></html>
